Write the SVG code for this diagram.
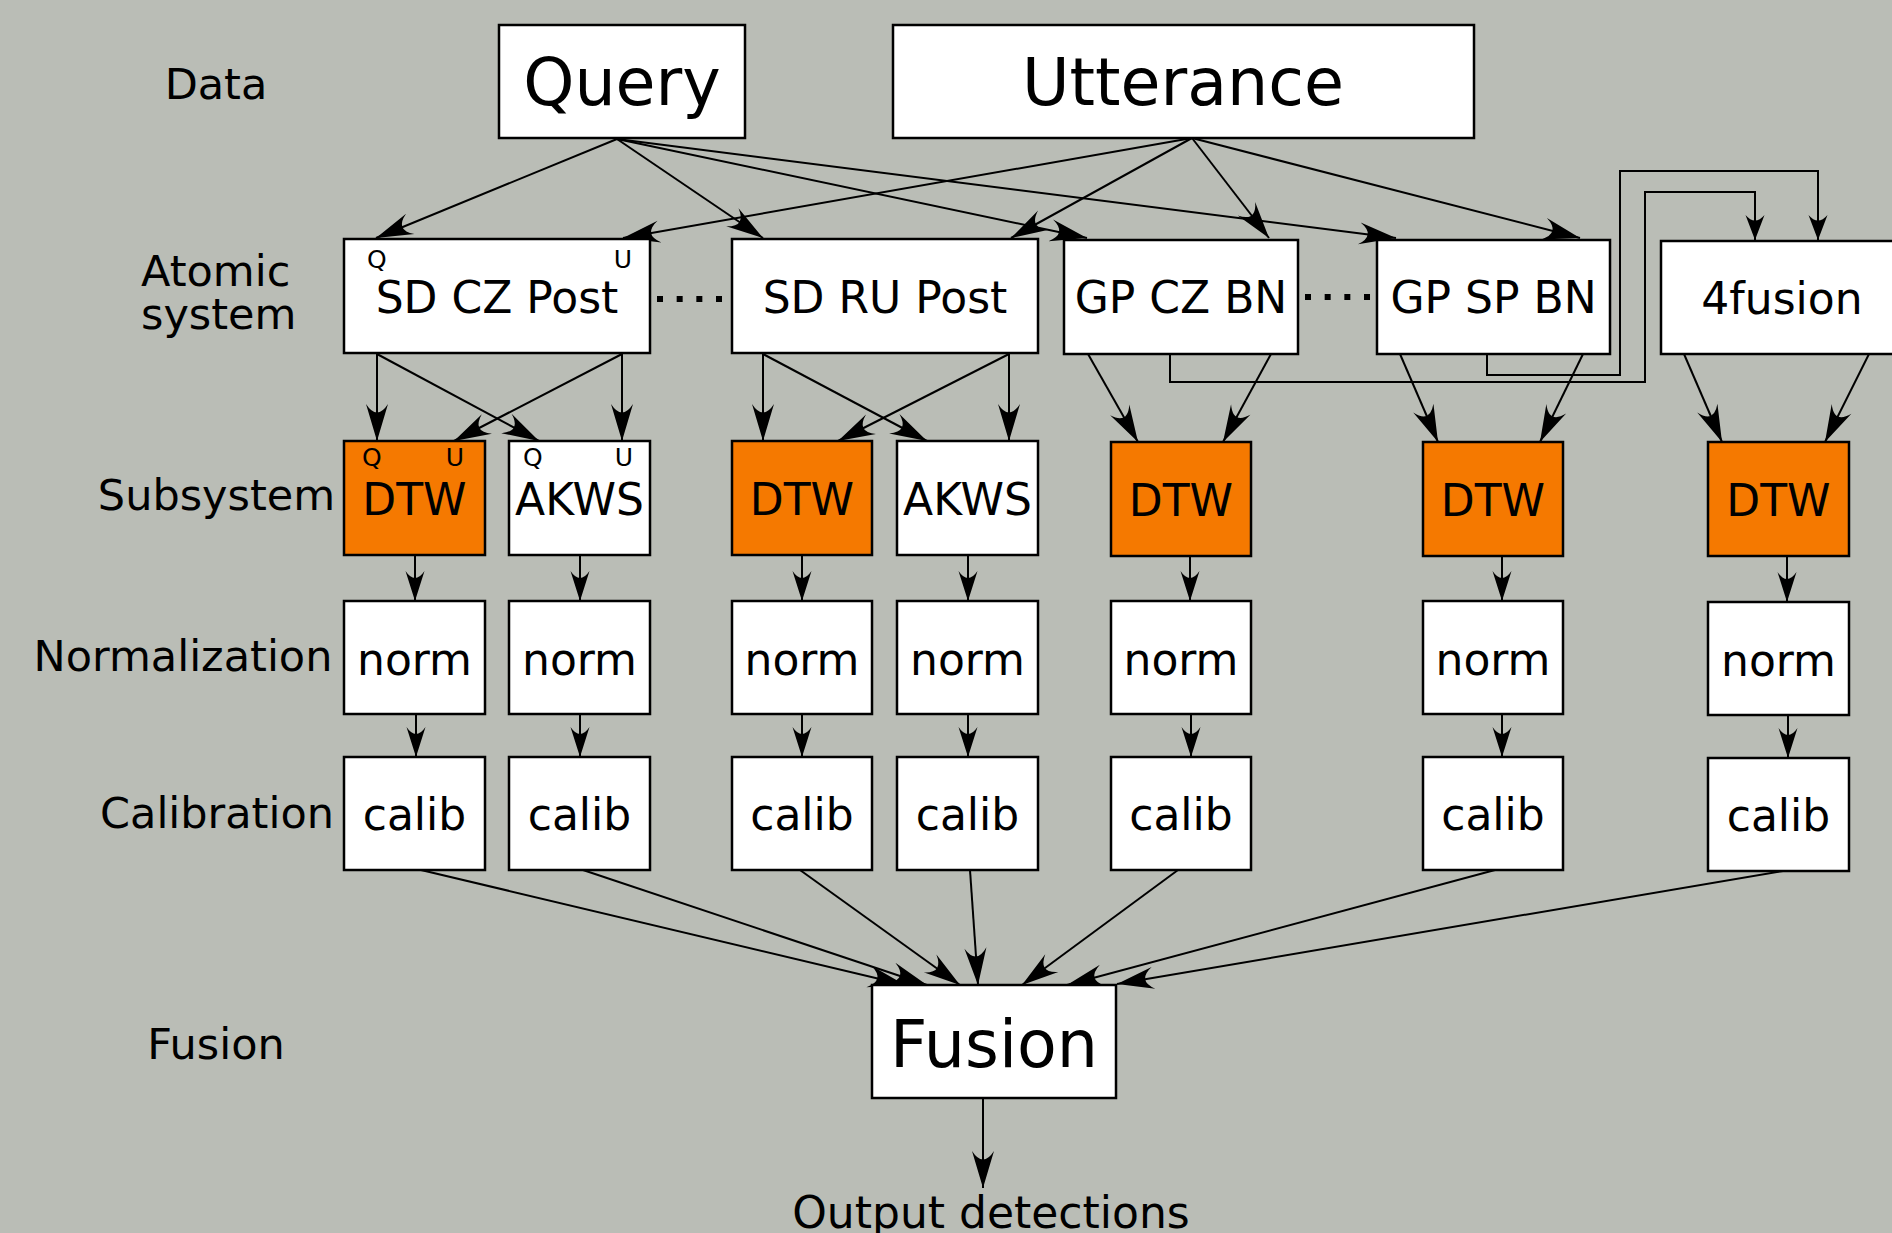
<svg xmlns="http://www.w3.org/2000/svg" width="1892" height="1233" viewBox="0 0 1892 1233">
<style>
.box{fill:#ffffff;stroke:#000;stroke-width:2.5}
.org{fill:#f57900;stroke:#000;stroke-width:2.5}
.t{font-family:"DejaVu Sans",sans-serif;fill:#000;text-anchor:middle}
.big{font-size:65px}
.mid{font-size:44px}
.lbl{font-size:43px}
.qu{font-size:25px}
.c{fill:none;stroke:#000;stroke-width:2}
.cb{marker-end:url(#ah)}
.cm{marker-end:url(#ahm)}
.cs{marker-end:url(#ahs)}
.dots{fill:none;stroke:#000;stroke-width:6;stroke-dasharray:6 13.67}
</style>
<defs>
<marker id="ah" markerUnits="userSpaceOnUse" markerWidth="40" markerHeight="24" viewBox="-39 -12 40 24" refX="0" refY="0" orient="auto" overflow="visible"><path d="M0,0 L-37,-11 Q-20,0 -37,11 Z" fill="#000"/></marker>
<marker id="ahm" markerUnits="userSpaceOnUse" markerWidth="34" markerHeight="22" viewBox="-33 -11 34 22" refX="0" refY="0" orient="auto" overflow="visible"><path d="M0,0 L-30,-9.5 Q-16,0 -30,9.5 Z" fill="#000"/></marker>
<marker id="ahs" markerUnits="userSpaceOnUse" markerWidth="28" markerHeight="22" viewBox="-27 -11 28 22" refX="0" refY="0" orient="auto" overflow="visible"><path d="M0,0 L-25,-9.5 Q-14,0 -25,9.5 Z" fill="#000"/></marker>
</defs>
<rect x="0" y="0" width="1892" height="1233" fill="#babdb6"/>

<g id="labels">
<text class="t lbl" x="216" y="99">Data</text>
<text class="t lbl" x="141" y="286" style="text-anchor:start">Atomic</text>
<text class="t lbl" x="141" y="329" style="text-anchor:start">system</text>
<text class="t lbl" x="216.5" y="510">Subsystem</text>
<text class="t lbl" x="183" y="671">Normalization</text>
<text class="t lbl" x="217" y="828">Calibration</text>
<text class="t lbl" x="216" y="1059">Fusion</text>
</g>

<g id="connectors">
<path class="c cb" d="M617,139 L376,238"/>
<path class="c cb" d="M617,139 L763,238"/>
<path class="c cb" d="M617,139 L1087,238"/>
<path class="c cb" d="M617,139 L1396,238"/>
<path class="c cb" d="M1192,138 L623,238"/>
<path class="c cb" d="M1192,138 L1011,238"/>
<path class="c cb" d="M1192,138 L1269,238"/>
<path class="c cb" d="M1192,138 L1580,238"/>
<path class="c cs" d="M1170,354 V382 H1645 V192 H1755 V240"/>
<path class="c cs" d="M1487,354 V375 H1620 V171 H1818 V240"/>
<path class="c cb" d="M377,354 L377,441"/>
<path class="c cb" d="M377,354 L539,441"/>
<path class="c cb" d="M622,354 L454,441"/>
<path class="c cb" d="M622,354 L622,441"/>
<path class="c cb" d="M763,354 L763,441"/>
<path class="c cb" d="M763,354 L927,441"/>
<path class="c cb" d="M1009,354 L838,441"/>
<path class="c cb" d="M1009,354 L1009,441"/>
<path class="c cb" d="M1088,354 L1138,442"/>
<path class="c cb" d="M1271,354 L1223,442"/>
<path class="c cb" d="M1400,354 L1438,442"/>
<path class="c cb" d="M1583,354 L1540,442"/>
<path class="c cb" d="M1684,354 L1722,442"/>
<path class="c cb" d="M1869,354 L1825,442"/>
<path class="c cm" d="M415,555 V601"/>
<path class="c cm" d="M580,555 V601"/>
<path class="c cm" d="M802,555 V601"/>
<path class="c cm" d="M968,555 V601"/>
<path class="c cm" d="M1190,556 V601"/>
<path class="c cm" d="M1502,556 V601"/>
<path class="c cm" d="M1787,556 V602"/>
<path class="c cm" d="M416,714 V757"/>
<path class="c cm" d="M580,714 V757"/>
<path class="c cm" d="M802,714 V757"/>
<path class="c cm" d="M968,714 V757"/>
<path class="c cm" d="M1191,714 V757"/>
<path class="c cm" d="M1502,714 V757"/>
<path class="c cm" d="M1788,715 V758"/>
<path class="c cb" d="M421,870 L905,985"/>
<path class="c cb" d="M583,870 L927,985"/>
<path class="c cb" d="M800,870 L960,985"/>
<path class="c cb" d="M970,870 L978,985"/>
<path class="c cb" d="M1178,870 L1022,985"/>
<path class="c cb" d="M1495,870 L1067,985"/>
<path class="c cb" d="M1783,871 L1117,984"/>
<path class="c cb" d="M983,1099 V1188"/>
<path class="dots" d="M657,299 H723"/>
<path class="dots" d="M1305,297 H1371"/>
</g>

<g id="query"><rect class="box" x="499" y="25" width="246" height="113"/><text class="t big" x="622" y="105">Query</text></g>
<g id="utterance"><rect class="box" x="893" y="25" width="581" height="113"/><text class="t big" x="1183" y="105">Utterance</text></g>

<g id="sdczpost"><rect class="box" x="344" y="239" width="306" height="114"/><text class="t mid" x="497" y="313">SD CZ Post</text><text class="t qu" x="367" y="268" style="text-anchor:start">Q</text><text class="t qu" x="632" y="268" style="text-anchor:end">U</text></g>
<g id="sdrupost"><rect class="box" x="732" y="239" width="306" height="114"/><text class="t mid" x="885" y="313">SD RU Post</text></g>
<g id="gpczbn"><rect class="box" x="1064" y="240" width="234" height="114"/><text class="t mid" x="1181" y="313">GP CZ BN</text></g>
<g id="gpspbn"><rect class="box" x="1377" y="240" width="233" height="114"/><text class="t mid" x="1493.5" y="313">GP SP BN</text></g>
<g id="fourfusion"><rect class="box" x="1661" y="241" width="244" height="113"/><text class="t mid" x="1782" y="314">4fusion</text></g>

<g id="dtw1"><rect class="org" x="344" y="441" width="141" height="114"/><text class="t mid" x="414.5" y="515">DTW</text><text class="t qu" x="362" y="466" style="text-anchor:start">Q</text><text class="t qu" x="464" y="466" style="text-anchor:end">U</text></g>
<g id="akws1"><rect class="box" x="509" y="441" width="141" height="114"/><text class="t mid" x="579.5" y="515">AKWS</text><text class="t qu" x="523" y="466" style="text-anchor:start">Q</text><text class="t qu" x="633" y="466" style="text-anchor:end">U</text></g>
<g id="dtw2"><rect class="org" x="732" y="441" width="140" height="114"/><text class="t mid" x="802" y="515">DTW</text></g>
<g id="akws2"><rect class="box" x="897" y="441" width="141" height="114"/><text class="t mid" x="967.5" y="515">AKWS</text></g>
<g id="dtw3"><rect class="org" x="1111" y="442" width="140" height="114"/><text class="t mid" x="1181" y="516">DTW</text></g>
<g id="dtw4"><rect class="org" x="1423" y="442" width="140" height="114"/><text class="t mid" x="1493" y="516">DTW</text></g>
<g id="dtw5"><rect class="org" x="1708" y="442" width="141" height="114"/><text class="t mid" x="1778.5" y="516">DTW</text></g>

<g id="norm1"><rect class="box" x="344" y="601" width="141" height="113"/><text class="t mid" x="414.5" y="675">norm</text></g>
<g id="norm2"><rect class="box" x="509" y="601" width="141" height="113"/><text class="t mid" x="579.5" y="675">norm</text></g>
<g id="norm3"><rect class="box" x="732" y="601" width="140" height="113"/><text class="t mid" x="802" y="675">norm</text></g>
<g id="norm4"><rect class="box" x="897" y="601" width="141" height="113"/><text class="t mid" x="967.5" y="675">norm</text></g>
<g id="norm5"><rect class="box" x="1111" y="601" width="140" height="113"/><text class="t mid" x="1181" y="675">norm</text></g>
<g id="norm6"><rect class="box" x="1423" y="601" width="140" height="113"/><text class="t mid" x="1493" y="675">norm</text></g>
<g id="norm7"><rect class="box" x="1708" y="602" width="141" height="113"/><text class="t mid" x="1778.5" y="676">norm</text></g>

<g id="calib1"><rect class="box" x="344" y="757" width="141" height="113"/><text class="t mid" x="414.5" y="830">calib</text></g>
<g id="calib2"><rect class="box" x="509" y="757" width="141" height="113"/><text class="t mid" x="579.5" y="830">calib</text></g>
<g id="calib3"><rect class="box" x="732" y="757" width="140" height="113"/><text class="t mid" x="802" y="830">calib</text></g>
<g id="calib4"><rect class="box" x="897" y="757" width="141" height="113"/><text class="t mid" x="967.5" y="830">calib</text></g>
<g id="calib5"><rect class="box" x="1111" y="757" width="140" height="113"/><text class="t mid" x="1181" y="830">calib</text></g>
<g id="calib6"><rect class="box" x="1423" y="757" width="140" height="113"/><text class="t mid" x="1493" y="830">calib</text></g>
<g id="calib7"><rect class="box" x="1708" y="758" width="141" height="113"/><text class="t mid" x="1778.5" y="831">calib</text></g>

<g id="fusion"><rect class="box" x="872" y="985" width="244" height="113"/><text class="t big" x="994" y="1067">Fusion</text></g>
<g id="output"><text class="t mid" x="991" y="1228">Output detections</text></g>
</svg>
